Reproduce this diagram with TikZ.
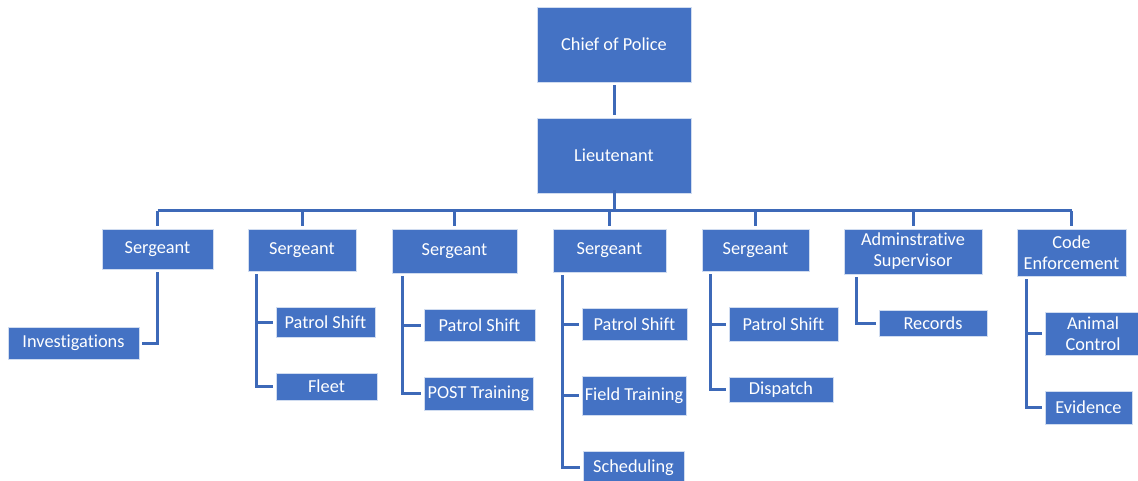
\documentclass[tikz,border=0pt]{standalone}
\usepackage{fontspec}
\setmainfont{Carlito}[Ligatures=NoCommon]
\usetikzlibrary{calc}
\definecolor{boxblue}{HTML}{4472C4}
\definecolor{lineblue}{HTML}{3D69B8}
\begin{document}
\begin{tikzpicture}[x=1pt,y=-1pt,
  box/.style={fill=boxblue,draw=white!75!boxblue,line width=0.6pt,text=white,
    font=\fontsize{18.3}{21}\selectfont,inner sep=0pt,align=center},
  conn/.style={draw=lineblue,line width=3pt},
  gap/.style={shorten <=3pt,shorten >=3pt}]
\useasboundingbox (0,0) rectangle (1138,481);
\begin{scope}
\clip (0,0) rectangle (1138,481);
% top
\node[box,minimum width=154,minimum height=75] (chief) at (614,44.5) {Chief of Police};
\node[box,minimum width=154,minimum height=75] (lt) at (614,155.5) {Lieutenant};
% second level
\node[box,minimum width=111,minimum height=40] (s1) at (157.5,249) {Sergeant};
\node[box,minimum width=108,minimum height=42] (s2) at (302,250) {Sergeant};
\node[box,minimum width=125,minimum height=44] (s3) at (454.5,251) {Sergeant};
\node[box,minimum width=113,minimum height=43] (s4) at (609.5,250.5) {Sergeant};
\node[box,minimum width=107,minimum height=42] (s5) at (755.5,250) {Sergeant};
\node[box,minimum width=138,minimum height=45] (adm) at (913,251.5) {Adminstrative\\Supervisor};
\node[box,minimum width=109,minimum height=47] (ce) at (1071.5,252.5) {Code\\Enforcement};
% third level
\node[box,minimum width=131,minimum height=32] (inv) at (73.5,343) {Investigations};
\node[box,minimum width=99,minimum height=30] (ps2) at (325.5,322) {Patrol Shift};
\node[box,minimum width=101,minimum height=27] (fleet) at (326.5,386.5) {Fleet};
\node[box,minimum width=111,minimum height=32] (ps3) at (479.5,325) {Patrol Shift};
\node[box,minimum width=109,minimum height=33] (post) at (478.5,393.5) {POST Training};
\node[box,minimum width=105,minimum height=32] (ps4) at (634.5,324) {Patrol Shift};
\node[box,minimum width=104,minimum height=39] (ft) at (634,395.5) {Field Training};
\node[box,minimum width=101,minimum height=33] (sch) at (633.5,467.5) {Scheduling};
\node[box,minimum width=109,minimum height=34] (ps5) at (783.5,324) {Patrol Shift};
\node[box,minimum width=104,minimum height=25] (disp) at (781,389.5) {Dispatch};
\node[box,minimum width=108,minimum height=26] (rec) at (933,323) {Records};
\node[box,minimum width=96,minimum height=43] (ac) at (1093,333.5) {Animal\\Control};
\node[box,minimum width=87,minimum height=33] (ev) at (1088.5,407.5) {Evidence};
\end{scope}
% connectors
\draw[conn,gap] (chief) -- (lt);
\coordinate (bus) at (614,211);
\draw[conn] ([yshift=3]lt.south) -- (bus);
\draw[conn] (s1.north |- bus) -- (ce.north |- bus);
\foreach \n in {s1,s2,s3,s4,s5,adm,ce}
  \draw[conn,shorten >=3pt] (\n.north |- bus) -- (\n.north);
% children
\draw[conn,gap] (s1.south) |- (inv.east);
\foreach \p/\dx/\c in {s2/9/ps2,s2/9/fleet,s3/11/ps3,s3/11/post,s4/10/ps4,s4/10/ft,s4/10/sch,
                       s5/9/ps5,s5/9/disp,adm/13/rec,ce/10/ac,ce/10/ev}
  \draw[conn,gap] ([xshift=\dx]\p.south west) |- (\c.west);
\end{tikzpicture}
\end{document}
